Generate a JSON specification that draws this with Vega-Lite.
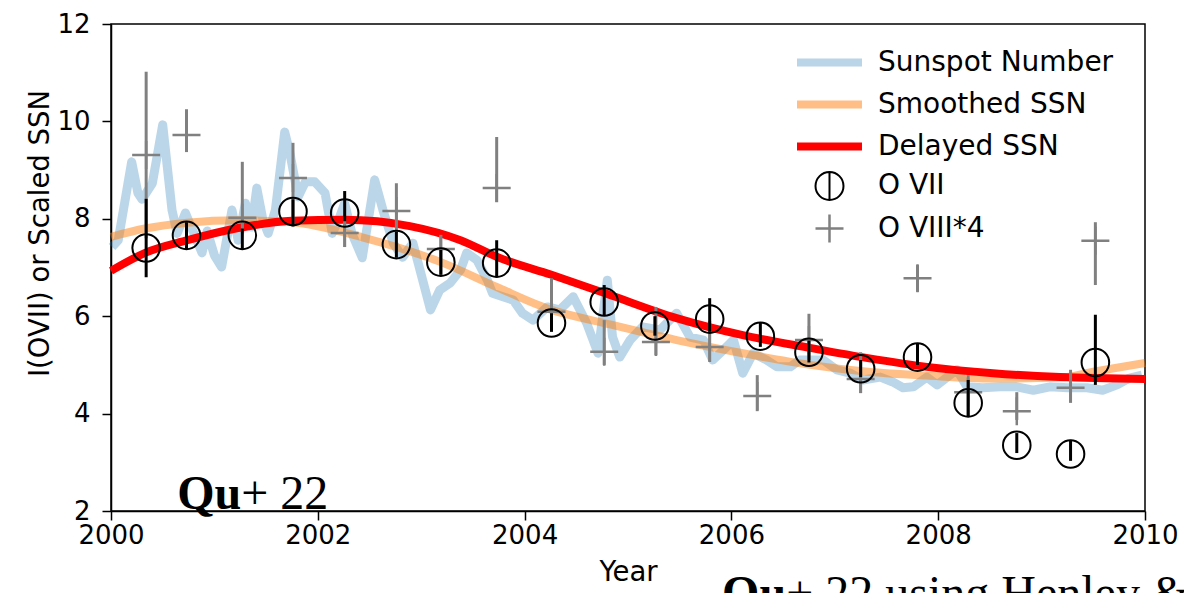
{
  "$schema": "https://vega.github.io/schema/vega-lite/v6.json",
  "autosize": "none",
  "width": 1034,
  "height": 487,
  "padding": {"left": 111, "top": 24, "right": 39, "bottom": 82},
  "background": "white",
  "config": {
    "font": "DejaVu Sans",
    "view": {"stroke": "black", "strokeWidth": 1.5},
    "axis": {
      "grid": false, "domainColor": "black", "domainWidth": 1.5, "tickColor": "black", "tickWidth": 1.5, "tickSize": 9,
      "labelFont": "DejaVu Sans", "labelFontSize": 26, "labelColor": "black",
      "titleFont": "DejaVu Sans", "titleFontSize": 27.5, "titleFontWeight": "normal", "titleColor": "black"
    },
    "legend": {
      "title": null, "orient": "none", "legendX": 698, "legendY": 18, "padding": 0,
      "labelFontSize": 28, "labelFont": "DejaVu Sans", "labelColor": "black", "labelOffset": 28, "labelLimit": 400,
      "rowPadding": 5
    }
  },
  "datasets": {
    "lines": [
      {"series": "Sunspot Number", "year": 2000.01, "value": 7.42},
      {"series": "Sunspot Number", "year": 2000.07, "value": 7.56},
      {"series": "Sunspot Number", "year": 2000.20, "value": 9.17},
      {"series": "Sunspot Number", "year": 2000.26, "value": 8.53},
      {"series": "Sunspot Number", "year": 2000.30, "value": 8.40},
      {"series": "Sunspot Number", "year": 2000.40, "value": 8.73},
      {"series": "Sunspot Number", "year": 2000.50, "value": 9.93},
      {"series": "Sunspot Number", "year": 2000.59, "value": 8.18},
      {"series": "Sunspot Number", "year": 2000.64, "value": 7.70},
      {"series": "Sunspot Number", "year": 2000.72, "value": 8.12},
      {"series": "Sunspot Number", "year": 2000.88, "value": 7.30},
      {"series": "Sunspot Number", "year": 2000.93, "value": 7.75},
      {"series": "Sunspot Number", "year": 2001.00, "value": 7.25},
      {"series": "Sunspot Number", "year": 2001.07, "value": 7.01},
      {"series": "Sunspot Number", "year": 2001.17, "value": 8.18},
      {"series": "Sunspot Number", "year": 2001.23, "value": 7.56},
      {"series": "Sunspot Number", "year": 2001.30, "value": 8.32},
      {"series": "Sunspot Number", "year": 2001.36, "value": 7.83},
      {"series": "Sunspot Number", "year": 2001.41, "value": 8.63},
      {"series": "Sunspot Number", "year": 2001.47, "value": 7.97},
      {"series": "Sunspot Number", "year": 2001.52, "value": 7.70},
      {"series": "Sunspot Number", "year": 2001.59, "value": 8.18},
      {"series": "Sunspot Number", "year": 2001.68, "value": 9.78},
      {"series": "Sunspot Number", "year": 2001.73, "value": 9.35},
      {"series": "Sunspot Number", "year": 2001.81, "value": 8.45},
      {"series": "Sunspot Number", "year": 2001.88, "value": 8.76},
      {"series": "Sunspot Number", "year": 2001.97, "value": 8.76},
      {"series": "Sunspot Number", "year": 2002.07, "value": 8.53},
      {"series": "Sunspot Number", "year": 2002.14, "value": 7.70},
      {"series": "Sunspot Number", "year": 2002.20, "value": 7.97},
      {"series": "Sunspot Number", "year": 2002.26, "value": 8.32},
      {"series": "Sunspot Number", "year": 2002.33, "value": 7.70},
      {"series": "Sunspot Number", "year": 2002.43, "value": 7.20},
      {"series": "Sunspot Number", "year": 2002.55, "value": 8.80},
      {"series": "Sunspot Number", "year": 2002.63, "value": 8.18},
      {"series": "Sunspot Number", "year": 2002.73, "value": 7.50},
      {"series": "Sunspot Number", "year": 2002.82, "value": 7.21},
      {"series": "Sunspot Number", "year": 2002.92, "value": 7.50},
      {"series": "Sunspot Number", "year": 2003.09, "value": 6.13},
      {"series": "Sunspot Number", "year": 2003.18, "value": 6.54},
      {"series": "Sunspot Number", "year": 2003.28, "value": 6.68},
      {"series": "Sunspot Number", "year": 2003.38, "value": 6.95},
      {"series": "Sunspot Number", "year": 2003.44, "value": 7.30},
      {"series": "Sunspot Number", "year": 2003.54, "value": 7.15},
      {"series": "Sunspot Number", "year": 2003.64, "value": 6.74},
      {"series": "Sunspot Number", "year": 2003.69, "value": 6.47},
      {"series": "Sunspot Number", "year": 2003.79, "value": 6.40},
      {"series": "Sunspot Number", "year": 2003.89, "value": 6.33},
      {"series": "Sunspot Number", "year": 2003.98, "value": 6.06},
      {"series": "Sunspot Number", "year": 2004.08, "value": 5.92},
      {"series": "Sunspot Number", "year": 2004.22, "value": 6.19},
      {"series": "Sunspot Number", "year": 2004.34, "value": 6.13},
      {"series": "Sunspot Number", "year": 2004.47, "value": 6.40},
      {"series": "Sunspot Number", "year": 2004.60, "value": 5.86},
      {"series": "Sunspot Number", "year": 2004.71, "value": 5.24},
      {"series": "Sunspot Number", "year": 2004.80, "value": 6.74},
      {"series": "Sunspot Number", "year": 2004.85, "value": 5.58},
      {"series": "Sunspot Number", "year": 2004.92, "value": 5.16},
      {"series": "Sunspot Number", "year": 2005.02, "value": 5.51},
      {"series": "Sunspot Number", "year": 2005.14, "value": 5.78},
      {"series": "Sunspot Number", "year": 2005.31, "value": 5.72},
      {"series": "Sunspot Number", "year": 2005.47, "value": 6.06},
      {"series": "Sunspot Number", "year": 2005.60, "value": 5.57},
      {"series": "Sunspot Number", "year": 2005.73, "value": 5.51},
      {"series": "Sunspot Number", "year": 2005.82, "value": 5.10},
      {"series": "Sunspot Number", "year": 2005.92, "value": 5.30},
      {"series": "Sunspot Number", "year": 2006.02, "value": 5.51},
      {"series": "Sunspot Number", "year": 2006.11, "value": 4.83},
      {"series": "Sunspot Number", "year": 2006.21, "value": 5.24},
      {"series": "Sunspot Number", "year": 2006.34, "value": 5.10},
      {"series": "Sunspot Number", "year": 2006.44, "value": 4.96},
      {"series": "Sunspot Number", "year": 2006.57, "value": 4.96},
      {"series": "Sunspot Number", "year": 2006.66, "value": 5.10},
      {"series": "Sunspot Number", "year": 2006.89, "value": 5.10},
      {"series": "Sunspot Number", "year": 2007.02, "value": 4.90},
      {"series": "Sunspot Number", "year": 2007.15, "value": 4.83},
      {"series": "Sunspot Number", "year": 2007.27, "value": 4.69},
      {"series": "Sunspot Number", "year": 2007.44, "value": 4.75},
      {"series": "Sunspot Number", "year": 2007.56, "value": 4.65},
      {"series": "Sunspot Number", "year": 2007.66, "value": 4.53},
      {"series": "Sunspot Number", "year": 2007.76, "value": 4.55},
      {"series": "Sunspot Number", "year": 2007.89, "value": 4.75},
      {"series": "Sunspot Number", "year": 2007.99, "value": 4.59},
      {"series": "Sunspot Number", "year": 2008.18, "value": 4.90},
      {"series": "Sunspot Number", "year": 2008.28, "value": 4.55},
      {"series": "Sunspot Number", "year": 2008.43, "value": 4.53},
      {"series": "Sunspot Number", "year": 2008.60, "value": 4.55},
      {"series": "Sunspot Number", "year": 2008.76, "value": 4.55},
      {"series": "Sunspot Number", "year": 2008.92, "value": 4.48},
      {"series": "Sunspot Number", "year": 2009.08, "value": 4.55},
      {"series": "Sunspot Number", "year": 2009.25, "value": 4.53},
      {"series": "Sunspot Number", "year": 2009.44, "value": 4.53},
      {"series": "Sunspot Number", "year": 2009.59, "value": 4.48},
      {"series": "Sunspot Number", "year": 2009.73, "value": 4.59},
      {"series": "Sunspot Number", "year": 2009.85, "value": 4.73},
      {"series": "Sunspot Number", "year": 2009.97, "value": 4.79},
      {"series": "Smoothed SSN", "year": 2000.00, "value": 7.63},
      {"series": "Smoothed SSN", "year": 2000.33, "value": 7.80},
      {"series": "Smoothed SSN", "year": 2000.74, "value": 7.92},
      {"series": "Smoothed SSN", "year": 2001.23, "value": 7.97},
      {"series": "Smoothed SSN", "year": 2001.75, "value": 7.93},
      {"series": "Smoothed SSN", "year": 2002.43, "value": 7.62},
      {"series": "Smoothed SSN", "year": 2003.19, "value": 7.11},
      {"series": "Smoothed SSN", "year": 2003.73, "value": 6.60},
      {"series": "Smoothed SSN", "year": 2004.26, "value": 6.13},
      {"series": "Smoothed SSN", "year": 2004.77, "value": 5.86},
      {"series": "Smoothed SSN", "year": 2005.47, "value": 5.51},
      {"series": "Smoothed SSN", "year": 2006.11, "value": 5.24},
      {"series": "Smoothed SSN", "year": 2006.76, "value": 5.00},
      {"series": "Smoothed SSN", "year": 2007.32, "value": 4.86},
      {"series": "Smoothed SSN", "year": 2007.89, "value": 4.78},
      {"series": "Smoothed SSN", "year": 2008.53, "value": 4.72},
      {"series": "Smoothed SSN", "year": 2009.18, "value": 4.74},
      {"series": "Smoothed SSN", "year": 2009.50, "value": 4.86},
      {"series": "Smoothed SSN", "year": 2010.00, "value": 5.04},
      {"series": "Delayed SSN", "year": 2000.00, "value": 6.93},
      {"series": "Delayed SSN", "year": 2000.33, "value": 7.30},
      {"series": "Delayed SSN", "year": 2000.74, "value": 7.56},
      {"series": "Delayed SSN", "year": 2001.23, "value": 7.81},
      {"series": "Delayed SSN", "year": 2001.75, "value": 7.96},
      {"series": "Delayed SSN", "year": 2002.26, "value": 7.98},
      {"series": "Delayed SSN", "year": 2002.89, "value": 7.85},
      {"series": "Delayed SSN", "year": 2003.38, "value": 7.56},
      {"series": "Delayed SSN", "year": 2003.73, "value": 7.22},
      {"series": "Delayed SSN", "year": 2004.26, "value": 6.85},
      {"series": "Delayed SSN", "year": 2004.78, "value": 6.47},
      {"series": "Delayed SSN", "year": 2005.47, "value": 5.96},
      {"series": "Delayed SSN", "year": 2006.11, "value": 5.61},
      {"series": "Delayed SSN", "year": 2006.76, "value": 5.35},
      {"series": "Delayed SSN", "year": 2007.32, "value": 5.14},
      {"series": "Delayed SSN", "year": 2007.89, "value": 4.96},
      {"series": "Delayed SSN", "year": 2008.53, "value": 4.83},
      {"series": "Delayed SSN", "year": 2009.18, "value": 4.75},
      {"series": "Delayed SSN", "year": 2010.00, "value": 4.71}
    ],
    "obs": [
      {"series": "O VII", "year": 2000.34, "value": 7.40, "low": 6.80, "high": 8.41},
      {"series": "O VII", "year": 2000.73, "value": 7.66, "low": 7.36, "high": 7.93},
      {"series": "O VII", "year": 2001.27, "value": 7.66, "low": 7.36, "high": 7.80},
      {"series": "O VII", "year": 2001.76, "value": 8.15, "low": 7.85, "high": 8.40},
      {"series": "O VII", "year": 2002.26, "value": 8.12, "low": 7.95, "high": 8.57},
      {"series": "O VII", "year": 2002.76, "value": 7.47, "low": 7.20, "high": 7.73},
      {"series": "O VII", "year": 2003.19, "value": 7.11, "low": 6.85, "high": 7.36},
      {"series": "O VII", "year": 2003.73, "value": 7.09, "low": 6.80, "high": 7.56},
      {"series": "O VII", "year": 2004.26, "value": 5.86, "low": 5.68, "high": 6.06},
      {"series": "O VII", "year": 2004.77, "value": 6.29, "low": 6.02, "high": 6.64},
      {"series": "O VII", "year": 2005.26, "value": 5.80, "low": 5.60, "high": 6.00},
      {"series": "O VII", "year": 2005.79, "value": 5.94, "low": 5.68, "high": 6.37},
      {"series": "O VII", "year": 2006.28, "value": 5.59, "low": 5.37, "high": 5.88},
      {"series": "O VII", "year": 2006.75, "value": 5.26, "low": 5.05, "high": 5.50},
      {"series": "O VII", "year": 2007.25, "value": 4.92, "low": 4.75, "high": 5.10},
      {"series": "O VII", "year": 2007.80, "value": 5.16, "low": 5.00, "high": 5.45},
      {"series": "O VII", "year": 2008.29, "value": 4.22, "low": 3.93, "high": 4.69},
      {"series": "O VII", "year": 2008.76, "value": 3.35, "low": 3.19, "high": 3.60},
      {"series": "O VII", "year": 2009.28, "value": 3.17, "low": 3.03, "high": 3.46},
      {"series": "O VII", "year": 2009.52, "value": 5.05, "low": 4.59, "high": 6.03},
      {"series": "O VIII*4", "year": 2000.34, "value": 9.31, "low": 7.60, "high": 11.02},
      {"series": "O VIII*4", "year": 2000.73, "value": 9.72, "low": 9.37, "high": 10.25},
      {"series": "O VIII*4", "year": 2001.27, "value": 8.02, "low": 7.70, "high": 9.17},
      {"series": "O VIII*4", "year": 2001.76, "value": 8.84, "low": 7.83, "high": 9.56},
      {"series": "O VIII*4", "year": 2002.26, "value": 7.71, "low": 7.42, "high": 8.00},
      {"series": "O VIII*4", "year": 2002.76, "value": 8.16, "low": 7.71, "high": 8.73},
      {"series": "O VIII*4", "year": 2003.19, "value": 7.38, "low": 6.85, "high": 7.67},
      {"series": "O VIII*4", "year": 2003.73, "value": 8.63, "low": 8.34, "high": 9.68},
      {"series": "O VIII*4", "year": 2004.26, "value": 6.09, "low": 5.68, "high": 6.78},
      {"series": "O VIII*4", "year": 2004.77, "value": 5.27, "low": 5.00, "high": 5.92},
      {"series": "O VIII*4", "year": 2005.27, "value": 5.47, "low": 5.20, "high": 6.19},
      {"series": "O VIII*4", "year": 2005.79, "value": 5.37, "low": 5.06, "high": 5.90},
      {"series": "O VIII*4", "year": 2006.25, "value": 4.36, "low": 4.05, "high": 4.79},
      {"series": "O VIII*4", "year": 2006.75, "value": 5.51, "low": 5.10, "high": 6.05},
      {"series": "O VIII*4", "year": 2007.25, "value": 4.71, "low": 4.42, "high": 5.26},
      {"series": "O VIII*4", "year": 2007.80, "value": 6.78, "low": 6.50, "high": 7.05},
      {"series": "O VIII*4", "year": 2008.29, "value": 4.44, "low": 3.93, "high": 4.79},
      {"series": "O VIII*4", "year": 2008.76, "value": 4.05, "low": 3.87, "high": 4.44},
      {"series": "O VIII*4", "year": 2009.28, "value": 4.53, "low": 4.22, "high": 4.90},
      {"series": "O VIII*4", "year": 2009.52, "value": 7.55, "low": 6.64, "high": 7.93}
    ],
    "boldnotes": [
      {"t": "Qu", "year": 2000.64, "value": 2.05},
      {"t": "Qu", "year": 2005.91, "value": -0.01}
    ],
    "plainnotes": [
      {"t": "+ 22", "year": 2001.26, "value": 2.05},
      {"t": "+ 22 using Henley &", "year": 2006.53, "value": -0.01}
    ]
  },
  "encoding": {
    "x": {"field": "year", "type": "quantitative",
      "scale": {"domain": [2000, 2010], "nice": false, "zero": false},
      "axis": {"title": "Year", "values": [2000, 2002, 2004, 2006, 2008, 2010], "format": "d", "labelPadding": 2, "titlePadding": 10, "labelFlush": false}},
    "y": {"field": "value", "type": "quantitative",
      "scale": {"domain": [2, 12], "nice": false, "zero": false},
      "axis": {"title": "I(OVII) or Scaled SSN", "values": [2, 4, 6, 8, 10, 12], "labelPadding": 12, "titlePadding": 2, "titleY": 209}}
  },
  "layer": [
    {
      "data": {"name": "lines"},
      "transform": [{"filter": "datum.series === 'Sunspot Number'"}],
      "mark": {"type": "line", "strokeWidth": 9, "opacity": 0.3, "strokeJoin": "round", "strokeCap": "butt"},
      "encoding": {
        "color": {"field": "series", "type": "nominal",
          "scale": {"domain": ["Sunspot Number", "Smoothed SSN", "Delayed SSN", "O VII", "O VIII*4"], "range": ["#1f77b4", "#ff7f0e", "#ff0000", "#000000", "#808080"]}}
      }
    },
    {
      "data": {"name": "lines"},
      "transform": [{"filter": "datum.series === 'Smoothed SSN'"}],
      "mark": {"type": "line", "strokeWidth": 8, "opacity": 0.5, "interpolate": "monotone"},
      "encoding": {"color": {"field": "series", "type": "nominal"}}
    },
    {
      "data": {"name": "lines"},
      "transform": [{"filter": "datum.series === 'Delayed SSN'"}],
      "mark": {"type": "line", "strokeWidth": 8, "interpolate": "monotone"},
      "encoding": {"color": {"field": "series", "type": "nominal"}}
    },
    {
      "data": {"name": "obs"},
      "transform": [{"filter": "datum.series === 'O VIII*4'"}],
      "mark": {"type": "rule", "strokeWidth": 3},
      "encoding": {
        "y": {"field": "low", "type": "quantitative", "title": "I(OVII) or Scaled SSN"},
        "y2": {"field": "high"},
        "color": {"field": "series", "type": "nominal"}
      }
    },
    {
      "data": {"name": "obs"},
      "transform": [{"filter": "datum.series === 'O VIII*4'"}],
      "mark": {"type": "point", "filled": false},
      "encoding": {
        "color": {"field": "series", "type": "nominal"},
        "shape": {"field": "series", "type": "nominal",
          "scale": {"type": "ordinal", "domain": ["Sunspot Number", "Smoothed SSN", "Delayed SSN", "O VII", "O VIII*4"],
            "range": ["M-2,0L2,0", "M-2,0L2,0", "M-2,0L2,0", "M-1,0A1,1,0,1,1,1,0A1,1,0,1,1,-1,0M0,-1L0,1", "M-1,0L1,0M0,-1L0,1"]}},
        "size": {"field": "series", "type": "nominal",
          "scale": {"type": "ordinal", "domain": ["Sunspot Number", "Smoothed SSN", "Delayed SSN", "O VII", "O VIII*4"], "range": [1056, 1056, 1056, 784, 784]}},
        "strokeWidth": {"field": "series", "type": "nominal",
          "scale": {"type": "ordinal", "domain": ["Sunspot Number", "Smoothed SSN", "Delayed SSN", "O VII", "O VIII*4"], "range": [8, 8, 8, 2, 2.5]}},
        "opacity": {"field": "series", "type": "nominal",
          "scale": {"type": "ordinal", "domain": ["Sunspot Number", "Smoothed SSN", "Delayed SSN", "O VII", "O VIII*4"], "range": [0.3, 0.5, 1, 1, 1]}}
      }
    },
    {
      "data": {"name": "obs"},
      "transform": [{"filter": "datum.series === 'O VII'"}],
      "mark": {"type": "rule", "strokeWidth": 3},
      "encoding": {
        "y": {"field": "low", "type": "quantitative", "title": "I(OVII) or Scaled SSN"},
        "y2": {"field": "high"},
        "color": {"field": "series", "type": "nominal"}
      }
    },
    {
      "data": {"name": "obs"},
      "transform": [{"filter": "datum.series === 'O VII'"}],
      "mark": {"type": "point", "shape": "circle", "size": 760, "filled": false, "strokeWidth": 2, "opacity": 1},
      "encoding": {"color": {"field": "series", "type": "nominal"}}
    },
    {
      "data": {"name": "boldnotes"},
      "mark": {"type": "text", "font": "Liberation Serif", "fontSize": 48, "fontWeight": "bold", "align": "left", "baseline": "alphabetic", "color": "black"},
      "encoding": {"text": {"field": "t"}}
    },
    {
      "data": {"name": "plainnotes"},
      "mark": {"type": "text", "font": "Liberation Serif", "fontSize": 48, "align": "left", "baseline": "alphabetic", "color": "black"},
      "encoding": {"text": {"field": "t"}}
    }
  ]
}
